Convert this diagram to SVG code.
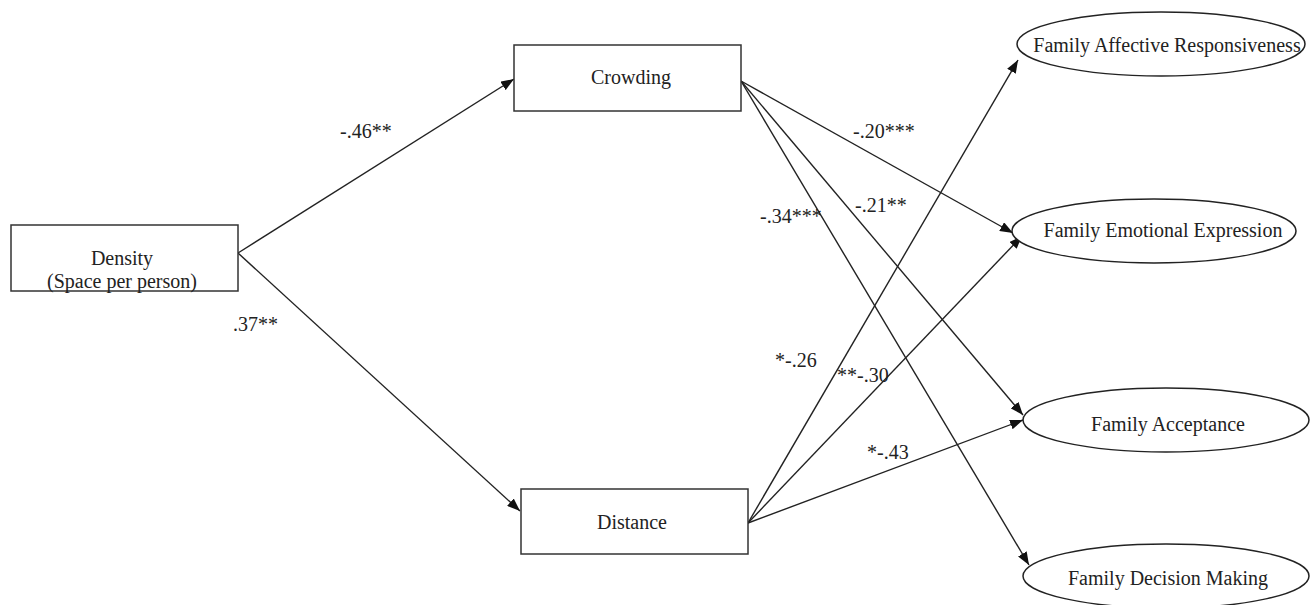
<svg xmlns="http://www.w3.org/2000/svg" width="1311" height="605" viewBox="0 0 1311 605">
<style>
.box{fill:#fff;stroke:#333;stroke-width:1.5}
.ell{fill:#fff;stroke:#222;stroke-width:1.5}
.t{font-family:"Liberation Serif","Times New Roman",serif;font-size:20px;fill:#222;text-anchor:middle}
.lbl{font-family:"Liberation Serif","Times New Roman",serif;font-size:20px;fill:#222}
.c{stroke:#222;stroke-width:1.4;fill:none;marker-end:url(#ah)}
</style>
<defs>
<marker id="ah" markerUnits="userSpaceOnUse" markerWidth="14" markerHeight="10" refX="13" refY="5" orient="auto">
<path d="M0,0 L13,5 L0,10 Z" fill="#111"/>
</marker>
</defs>
<rect width="1311" height="605" fill="#fff"/>
<g id="connectors">
<line class="c" x1="238" y1="253" x2="514" y2="79"/>
<line class="c" x1="238" y1="253" x2="520" y2="511"/>
<line class="c" x1="741" y1="81" x2="1013" y2="233"/>
<line class="c" x1="741" y1="81" x2="1023" y2="415"/>
<line class="c" x1="741" y1="81" x2="1029" y2="565"/>
<line class="c" x1="748" y1="523" x2="1018" y2="60"/>
<line class="c" x1="748" y1="523" x2="1022" y2="236"/>
<line class="c" x1="748" y1="523" x2="1023" y2="420"/>
</g>
<g id="density">
<rect class="box" x="11" y="225" width="227" height="66"/>
<text class="t" x="122" y="265">Density</text>
<text class="t" x="122" y="288">(Space per person)</text>
</g>
<g id="crowding">
<rect class="box" x="514" y="45" width="227" height="66"/>
<text class="t" x="631" y="84">Crowding</text>
</g>
<g id="distance">
<rect class="box" x="521" y="489" width="227" height="65"/>
<text class="t" x="632" y="529">Distance</text>
</g>
<g id="affective">
<ellipse class="ell" cx="1161" cy="44" rx="144" ry="32"/>
<text class="t" x="1167" y="52">Family Affective Responsiveness</text>
</g>
<g id="emotional">
<ellipse class="ell" cx="1154" cy="231" rx="142" ry="32"/>
<text class="t" x="1163" y="237">Family Emotional Expression</text>
</g>
<g id="acceptance">
<ellipse class="ell" cx="1166" cy="420" rx="143" ry="32"/>
<text class="t" x="1168" y="431">Family Acceptance</text>
</g>
<g id="decision">
<ellipse class="ell" cx="1166" cy="576" rx="143" ry="32"/>
<text class="t" x="1168" y="585">Family Decision Making</text>
</g>
<g id="labels">
<text class="lbl" x="340" y="138">-.46**</text>
<text class="lbl" x="233" y="331">.37**</text>
<text class="lbl" x="853" y="138">-.20***</text>
<text class="lbl" x="855" y="212">-.21**</text>
<text class="lbl" x="760" y="223">-.34***</text>
<text class="lbl" x="775" y="367">*-.26</text>
<text class="lbl" x="837" y="382">**-.30</text>
<text class="lbl" x="867" y="459">*-.43</text>
</g>
</svg>
